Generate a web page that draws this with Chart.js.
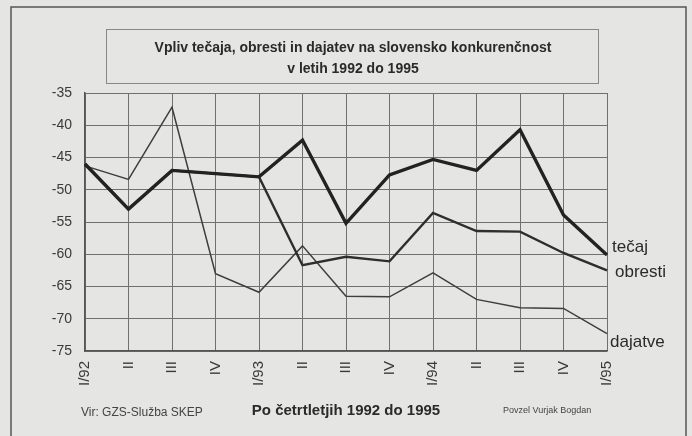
<!DOCTYPE html>
<html>
<head>
<meta charset="utf-8">
<script src="https://cdn.jsdelivr.net/npm/chart.js@4"></script>
<style>
  html, body { margin: 0; padding: 0; background: #e5e5e3; }
  #wrap { width: 692px; height: 436px; }
</style>
</head>
<body>
<div id="wrap"><canvas id="chart" width="692" height="436"></canvas></div>
<script>
// quarters 1992 - 1995
const quarters = ['I/92', 'II', 'III', 'IV', 'I/93', 'II', 'III', 'IV', 'I/94', 'II', 'III', 'IV', 'I/95'];
const tecaj   = [-46, -53, -47, -47.5, -48, -42.3, -55.2, -47.7, -45.3, -47, -40.7, -53.9, -60.1];
const obresti = [-46, -53, -47, -47.5, -48, -61.7, -60.4, -61.1, -53.6, -56.4, -56.5, -59.8, -62.5];
const dajatve = [-46.3, -48.4, -37.2, -63, -65.9, -58.7, -66.5, -66.6, -62.9, -67, -68.3, -68.4, -72.3];
const yTicks  = [-35, -40, -45, -50, -55, -60, -65, -70, -75];

const titleLines = ['Vpliv tečaja, obresti in dajatev na slovensko konkurenčnost', 'v letih 1992 do 1995'];
const xTitle = 'Po četrtletjih 1992 do 1995';
const source = 'Vir: GZS-Služba SKEP';
const author = 'Povzel Vurjak Bogdan';

const ink = '#2a2a2a';

// frame, title box and texts around the plot
const decor = {
  id: 'decor',
  beforeDraw(chart) {
    const c = chart.ctx;
    c.save();
    c.fillStyle = '#e5e5e3';
    c.fillRect(0, 0, chart.width, chart.height);
    c.strokeStyle = '#555';
    c.lineWidth = 1.5;
    c.strokeRect(11, 7, 675, 440);
    c.strokeStyle = '#888';
    c.lineWidth = 1;
    c.strokeRect(106.5, 29.5, 492, 54);
    c.restore();
  },
  afterDraw(chart) {
    const c = chart.ctx;
    const y = chart.scales.y;
    const x = chart.scales.x;
    const last = quarters.length - 1;
    c.save();
    c.fillStyle = ink;
    c.textAlign = 'center';
    c.textBaseline = 'middle';
    c.font = 'bold 14px "Liberation Sans", Arial, sans-serif';
    c.fillText(titleLines[0], 353, 48);
    c.fillText(titleLines[1], 353, 69);

    c.font = 'bold 15px "Liberation Sans", Arial, sans-serif';
    c.fillText(xTitle, 346, 411, 208);

    c.textAlign = 'left';
    c.font = '12px "Liberation Sans", Arial, sans-serif';
    c.fillStyle = '#444';
    c.fillText(source, 81, 413, 140);
    c.font = '9px "Liberation Sans", Arial, sans-serif';
    c.fillText(author, 503, 411, 114);

    // series names at the end of lines
    c.fillStyle = ink;
    c.font = '17px "Liberation Sans", Arial, sans-serif';
    const xr = x.getPixelForValue(last);
    c.fillText('tečaj', xr + 5, y.getPixelForValue(-58.9));
    c.fillText('obresti', xr + 8, y.getPixelForValue(-62.8));
    c.fillText('dajatve', xr + 3, y.getPixelForValue(-73.6));
    c.restore();
  }
};

const ctx = document.getElementById('chart').getContext('2d');

const chartGraph = new Chart(ctx, {
  type: 'line',
  data: {
    labels: quarters,
    datasets: [
      { label: 'tečaj', data: tecaj, borderColor: '#222', borderWidth: 3.4 },
      { label: 'obresti', data: obresti, borderColor: '#2e2e2e', borderWidth: 2.4 },
      { label: 'dajatve', data: dajatve, borderColor: '#3e3e3e', borderWidth: 1.5 }
    ]
  },
  options: {
    responsive: false,
    animation: false,
    events: [],
    elements: { point: { radius: 0 }, line: { tension: 0 } },
    layout: { padding: { left: 40, right: 85, top: 93, bottom: 25 } },
    plugins: { legend: { display: false }, title: { display: false }, tooltip: { enabled: false } },
    scales: {
      x: {
        offset: false,
        afterFit: s => { s.height = 60; },
        grid: { color: '#707070', lineWidth: 1, drawTicks: false, offset: false },
        border: { color: '#555', width: 1.5 },
        ticks: {
          autoSkip: false, maxRotation: 90, minRotation: 90, padding: 10,
          color: '#3a3a3a', font: { family: '"Liberation Sans", Arial, sans-serif', size: 15 }
        }
      },
      y: {
        min: yTicks[yTicks.length - 1],
        max: yTicks[0],
        afterFit: s => { s.width = 45; },
        afterBuildTicks: s => { s.ticks = yTicks.map(v => ({ value: v })); },
        grid: { color: '#707070', lineWidth: 1, drawTicks: false },
        border: { color: '#555', width: 1.5 },
        ticks: {
          padding: 13, color: '#3a3a3a',
          font: { family: '"Liberation Sans", Arial, sans-serif', size: 14 }
        }
      }
    }
  },
  plugins: [decor]
});
</script>
</body>
</html>
